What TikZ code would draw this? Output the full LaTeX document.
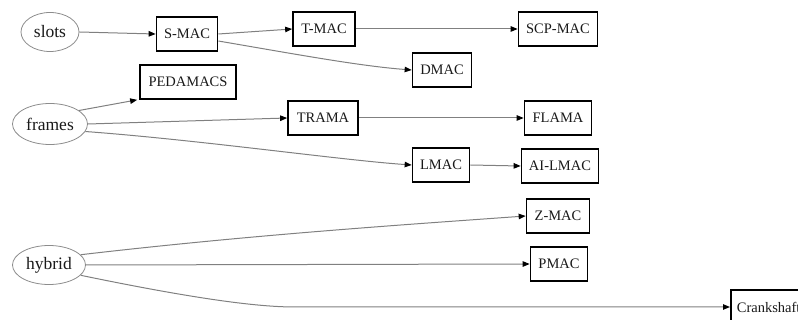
\documentclass[tikz,border=0pt]{standalone}
\usepackage{fontspec}
\setmainfont{Liberation Serif}
\usetikzlibrary{shapes.geometric,arrows.meta}
\tikzset{
  ell/.style={ellipse, draw=black!45, line width=0.8pt, inner sep=0pt,
    font=\fontsize{17.5}{20}\selectfont, text=black!90},
  box/.style={rectangle, draw=black, line width=1.7pt, minimum height=34pt,
    inner sep=0pt, font=\fontsize{14.5}{17}\selectfont, text=black!90},
  edge/.style={draw=black!50, line width=1pt,
    -{Triangle[length=7pt,width=5.5pt,color=black]}}
}
\begin{document}
\begin{tikzpicture}[x=1pt,y=-1pt]
\useasboundingbox (0,0) rectangle (798,320);
\clip (0,0) rectangle (798,320);
% ellipses
\node[ell, minimum width=58pt, minimum height=39pt] (slots) at (50,32) {slots};
\node[ell, minimum width=75pt, minimum height=41pt] (frames) at (50,124) {frames};
\node[ell, minimum width=73pt, minimum height=39pt] (hybrid) at (49,265) {hybrid};
% boxes
\node[box, minimum width=61pt] (smac) at (187,34) {S-MAC};
\node[box, minimum width=62pt] (tmac) at (324,29) {T-MAC};
\node[box, minimum width=79pt] (scp) at (558,29) {SCP-MAC};
\node[box, minimum width=59pt] (dmac) at (442,70) {DMAC};
\node[box, minimum width=96pt] (ped) at (188,82) {PEDAMACS};
\node[box, minimum width=70pt] (trama) at (323,118) {TRAMA};
\node[box, minimum width=67pt] (flama) at (558,118) {FLAMA};
\node[box, minimum width=57pt] (lmac) at (441,165) {LMAC};
\node[box, minimum width=77pt] (ailmac) at (560,166) {AI-LMAC};
\node[box, minimum width=63pt] (zmac) at (558,216) {Z-MAC};
\node[box, minimum width=57pt] (pmac) at (559,264) {PMAC};
\node[box, anchor=west, inner xsep=6pt] (crank) at (730,307) {Crankshaft};
% edges
\draw[edge] (slots.east) -- (smac.west);
\draw[edge] (smac.east) -- (tmac.west);
\draw[edge] ([yshift=-7pt]smac.east) .. controls (300,55) and (360,66) .. (dmac.west);
\draw[edge] (tmac.east) -- (scp.west);
\draw[edge] (frames.25) -- ([xshift=-2pt]ped.south west);
\draw[edge] (frames.east) -- (trama.west);
\draw[edge] (frames.-12) .. controls (200,140) and (340,160) .. (lmac.west);
\draw[edge] (trama.east) -- (flama.west);
\draw[edge] (lmac.east) -- (ailmac.west);
\draw[edge] (hybrid.18) .. controls (250,235) and (400,225) .. (zmac.west);
\draw[edge] (hybrid.east) -- (pmac.west);
\draw[edge] (hybrid.-18) .. controls (200,300) and (260,307) .. (295,307) -- (crank.west);
\end{tikzpicture}
\end{document}
